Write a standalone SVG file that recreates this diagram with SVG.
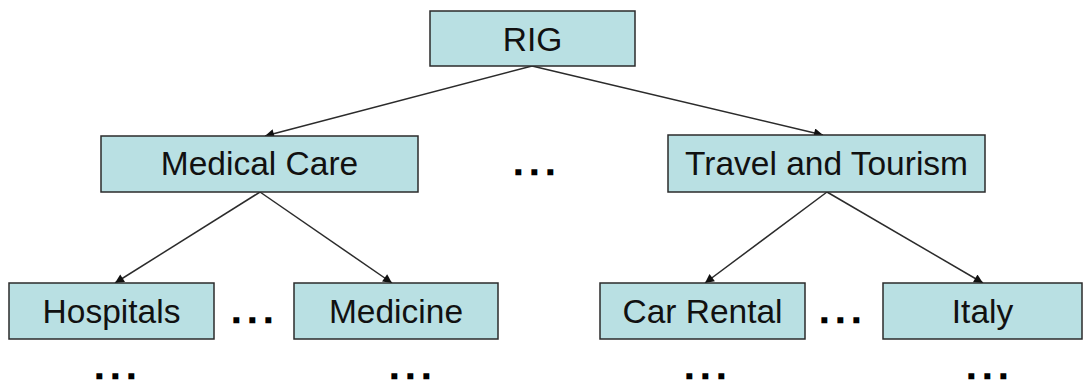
<svg xmlns="http://www.w3.org/2000/svg" width="1085" height="383" viewBox="0 0 1085 383">
  <style>
    .box { fill: #b9e0e3; stroke: #2b2b2b; stroke-width: 1.5; }
    .label { font-family: "Liberation Sans", Arial, sans-serif; font-size: 33.5px; fill: #111; text-anchor: middle; }
    .edge { stroke: #2b2b2b; stroke-width: 1.5; fill: none; marker-end: url(#arrow); }
    .dots { font-family: "Liberation Sans", Arial, sans-serif; font-size: 24px; font-weight: bold; letter-spacing: 9.3px; fill: #000; stroke: #000; stroke-width: 2.5; stroke-linejoin: miter; }
  </style>
  <defs>
    <marker id="arrow" viewBox="0 0 10 10" refX="10" refY="5" markerWidth="12" markerHeight="9" markerUnits="userSpaceOnUse" orient="auto">
      <path d="M0,0 L10,5 L0,10 z" fill="#111"/>
    </marker>
  </defs>
  <rect width="1085" height="383" fill="#ffffff"/>

  <g id="connectors">
    <line class="edge" x1="532" y1="66" x2="265" y2="136"/>
    <line class="edge" x1="532" y1="66" x2="823" y2="135"/>
    <line class="edge" x1="260" y1="192" x2="115" y2="283"/>
    <line class="edge" x1="260" y1="192" x2="392" y2="283"/>
    <line class="edge" x1="827" y1="192" x2="705" y2="283"/>
    <line class="edge" x1="827" y1="192" x2="983" y2="283"/>
  </g>

  <g id="rig">
    <rect class="box" x="430" y="11" width="205" height="55"/>
    <text class="label" x="532.5" y="51">RIG</text>
  </g>
  <g id="medical-care">
    <rect class="box" x="101" y="136" width="317" height="56"/>
    <text class="label" x="259.5" y="175">Medical Care</text>
  </g>
  <g id="travel-and-tourism">
    <rect class="box" x="668" y="135" width="317" height="57"/>
    <text class="label" x="826.5" y="175">Travel and Tourism</text>
  </g>
  <g id="hospitals">
    <rect class="box" x="9" y="283" width="205" height="56"/>
    <text class="label" x="111.5" y="323">Hospitals</text>
  </g>
  <g id="medicine">
    <rect class="box" x="294" y="283" width="204" height="56"/>
    <text class="label" x="396" y="323">Medicine</text>
  </g>
  <g id="car-rental">
    <rect class="box" x="600" y="283" width="205" height="56"/>
    <text class="label" x="702.5" y="323">Car Rental</text>
  </g>
  <g id="italy">
    <rect class="box" x="883" y="283" width="199" height="56"/>
    <text class="label" x="982.5" y="323">Italy</text>
  </g>

  <g id="ellipses">
    <text class="dots" x="515" y="173.8">...</text>
    <text class="dots" x="233" y="321.8">...</text>
    <text class="dots" x="821" y="321.8">...</text>
    <text class="dots" x="96" y="377.5">...</text>
    <text class="dots" x="391" y="377.5">...</text>
    <text class="dots" x="686" y="377.5">...</text>
    <text class="dots" x="968" y="377.5">...</text>
  </g>
</svg>
